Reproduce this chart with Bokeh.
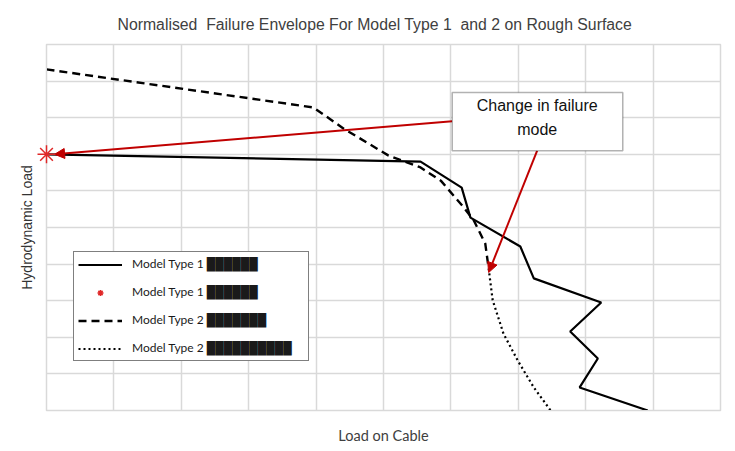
from bokeh.plotting import figure
from bokeh.models import (Range1d, FixedTicker, Legend, LegendItem, Arrow, NormalHead,
                          BoxAnnotation, Label)
from bokeh.embed import file_html
from bokeh.resources import INLINE

# ---- data (normalised units) ----
m1_x = [0.0, 5.55, 6.16, 6.29, 7.03, 7.23, 8.23, 7.77, 8.18, 7.91, 8.92]
m1_y = [7.0, 6.80, 6.09, 5.27, 4.48, 3.61, 2.95, 2.16, 1.42, 0.63, 0.0]

m1_point_x = [0.0]
m1_point_y = [7.0]

m2_dash_x = [0.0, 3.96, 4.41, 5.07, 5.55, 5.85, 6.19, 6.34, 6.51, 6.56]
m2_dash_y = [9.32, 8.28, 7.70, 6.97, 6.64, 6.28, 5.55, 5.19, 4.56, 3.88]

m2_dot_x = [6.56, 6.62, 6.78, 6.99, 7.23, 7.48]
m2_dot_y = [3.88, 3.01, 2.10, 1.37, 0.63, 0.0]

grid_ticks = list(range(0, 11))

B = "\u2588"
NB = "\u00a0"
legend_labels = ["Model Type 1 " + B * 6,
                 "Model Type 1 " + B * 6,
                 "Model Type 2 " + B * 7,
                 "Model Type 2 " + B * 10 + NB * 4]

title_text = "Normalised\u00a0 Failure Envelope For Model Type 1\u00a0 and 2 on Rough Surface"
callout_text = "Change in failure\nmode"

GRID = "#d9d9d9"
RED = "#c00000"

p = figure(frame_width=674, frame_height=366, output_backend="svg", toolbar_location=None,
           x_range=Range1d(0, 10), y_range=Range1d(0, 10),
           min_border_left=46, min_border_right=7, min_border_top=44, min_border_bottom=38)

p.title.text = title_text
p.title.align = "left"
p.title.offset = 71
p.title.text_font = "Liberation Sans"
p.title.text_font_size = "15.8px"
p.title.text_font_style = "normal"
p.title.text_color = "#404040"
p.title.standoff = 24

for ax in (p.xaxis, p.yaxis):
    ax.ticker = FixedTicker(ticks=[])
    ax.minor_tick_line_color = None
    ax.axis_line_color = GRID
    ax.major_tick_line_color = None

p.xgrid.ticker = FixedTicker(ticks=grid_ticks)
p.ygrid.ticker = FixedTicker(ticks=grid_ticks)

p.xaxis.axis_label = "Load on Cable"
p.xaxis.axis_label_text_font = "Lato"
p.xaxis.axis_label_text_font_size = "14.5px"
p.xaxis.axis_label_text_font_style = "normal"
p.xaxis.axis_label_text_color = "#404040"
p.xaxis.axis_label_standoff = 16

p.yaxis.axis_label = "Hydrodynamic Load"
p.yaxis.axis_label_text_font = "Liberation Sans"
p.yaxis.axis_label_text_font_size = "14px"
p.yaxis.axis_label_text_font_style = "normal"
p.yaxis.axis_label_text_color = "#333333"
p.yaxis.axis_label_standoff = 12

p.grid.grid_line_color = GRID
p.grid.grid_line_width = 1.5
p.outline_line_color = GRID
p.outline_line_width = 1.5

r1 = p.line(m1_x, m1_y, line_color="black", line_width=2.2)
r2 = p.line(m2_dash_x, m2_dash_y, line_color="black", line_width=2.4, line_dash="8 5")
r3 = p.line(m2_dot_x, m2_dot_y, line_color="black", line_width=2.2, line_dash="2 3")
rs = p.scatter(m1_point_x, m1_point_y, marker="asterisk", size=18, line_color="#e02828",
               line_width=1.5, level="overlay")

# callout arrows, box and text
p.add_layout(Arrow(x_start=6.02, y_start=7.90, x_end=0.12, y_end=7.0,
                   line_color=RED, line_width=2,
                   end=NormalHead(size=10, fill_color=RED, line_color=RED)))
p.add_layout(Arrow(x_start=7.28, y_start=7.10, x_end=6.56, y_end=3.77,
                   line_color=RED, line_width=2,
                   end=NormalHead(size=10, fill_color=RED, line_color=RED)))
p.add_layout(BoxAnnotation(left=6.02, right=8.55, bottom=7.10, top=8.69,
                           fill_color="white", fill_alpha=1.0,
                           line_color="black", line_width=1.5))
p.add_layout(Label(x=7.28, y=8.01, text=callout_text, text_align="center",
                   text_baseline="middle", text_font="Liberation Sans",
                   text_font_size="16px", text_line_height=1.45, text_color="#111111"))

legend = Legend(items=[LegendItem(label=legend_labels[0], renderers=[r1]),
                       LegendItem(label=legend_labels[1], renderers=[rs]),
                       LegendItem(label=legend_labels[2], renderers=[r2]),
                       LegendItem(label=legend_labels[3], renderers=[r3])],
                location=(27, 49), border_line_color="black", border_line_width=1.5,
                padding=4, spacing=12, glyph_width=44, glyph_height=15, label_height=15,
                label_standoff=10, label_text_font="Lato", label_text_font_size="12px",
                label_text_color="#1a1a1a", background_fill_alpha=1.0, margin=0)
p.add_layout(legend)

open("out.html", "w").write(file_html(p, INLINE))
